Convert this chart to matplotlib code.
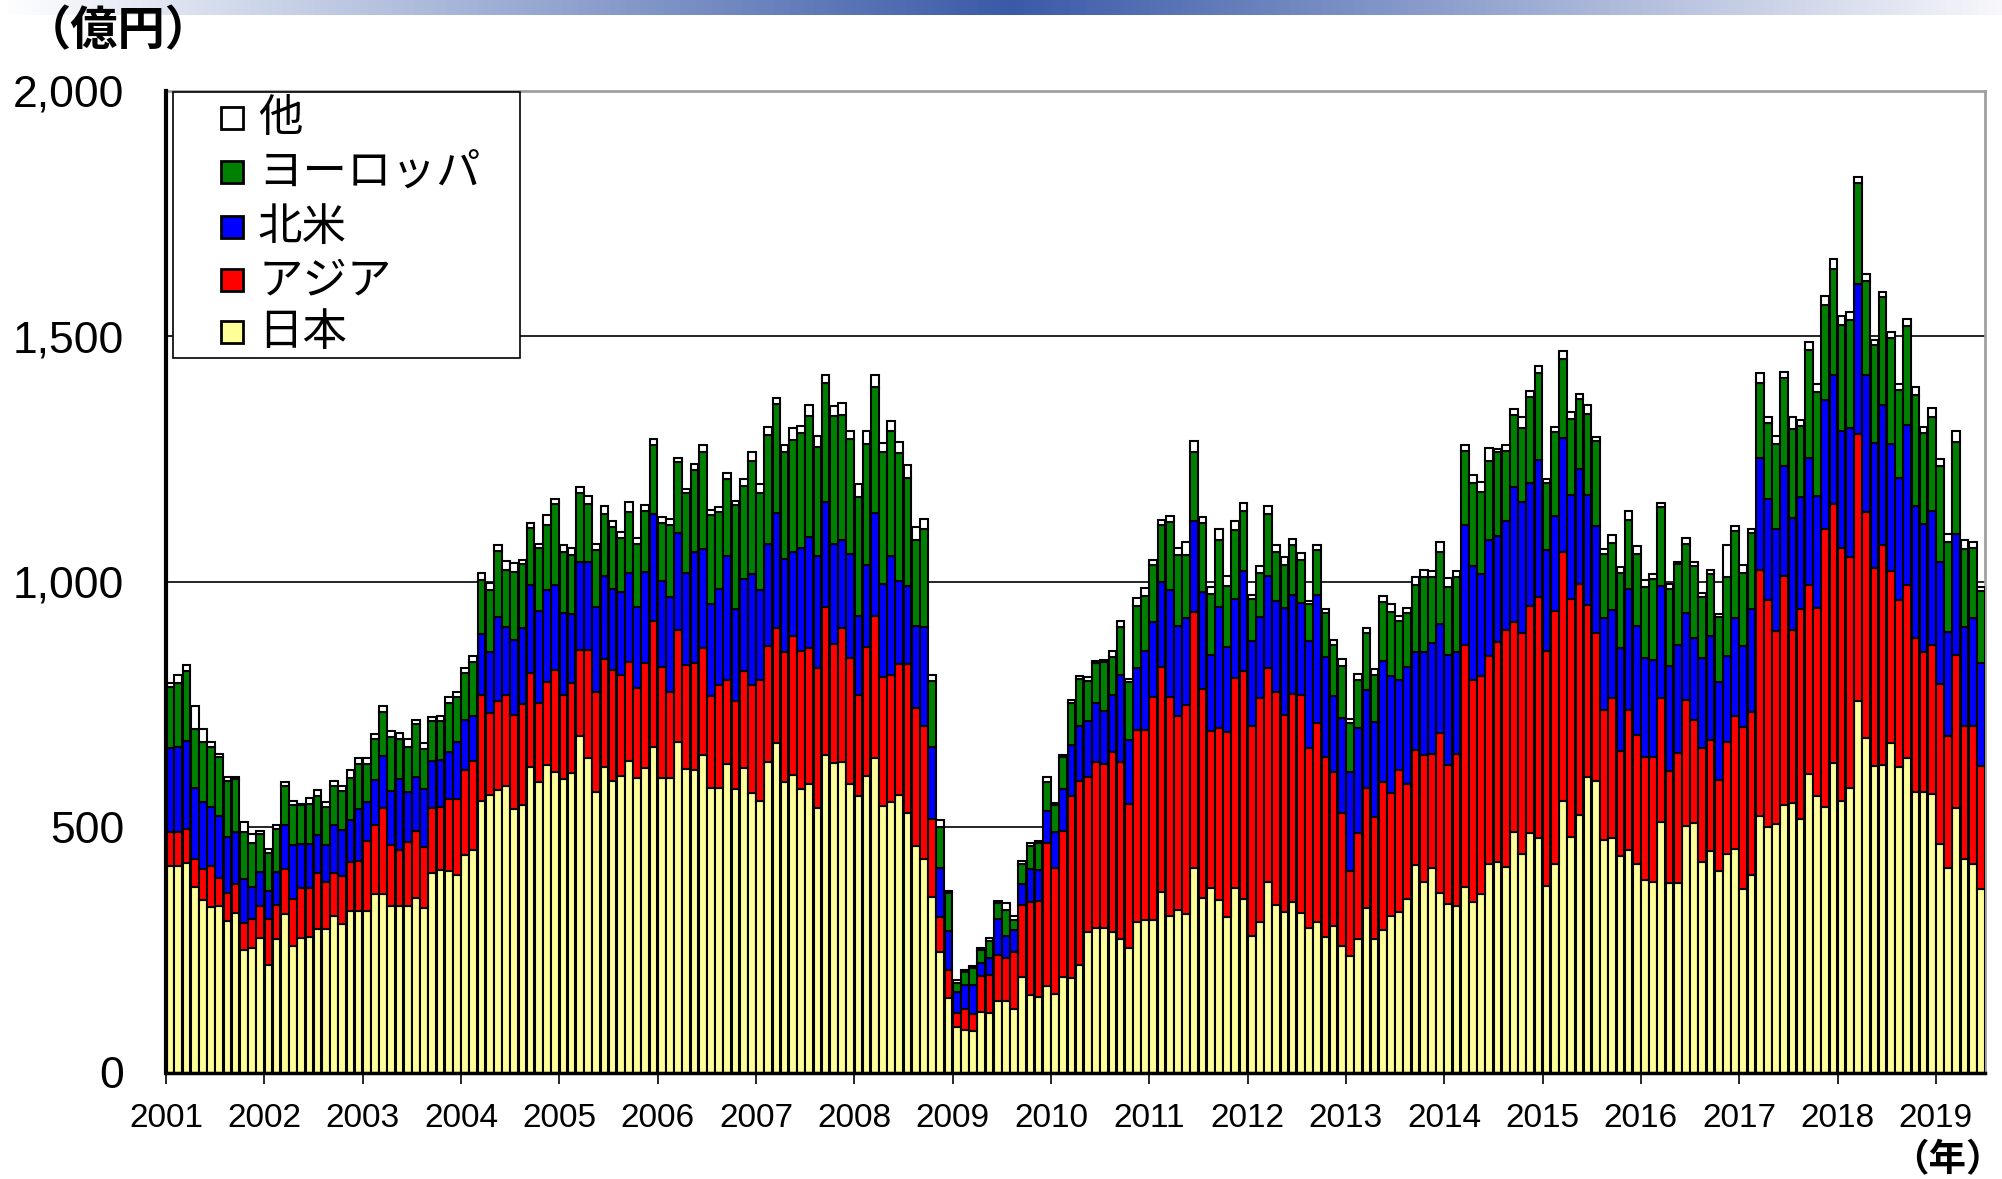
import matplotlib
matplotlib.use('Agg')
import matplotlib.pyplot as plt
import numpy as np
from matplotlib.patches import Rectangle
from matplotlib.colors import LinearSegmentedColormap

# ---- data (monthly, Jan 2001 - Jun 2019), 億円 ----
japan = [421,421,427,378,351,337,339,309,324,250,253,273,
         218,271,322,257,273,276,292,292,318,302,330,328,
         328,364,364,340,340,340,355,335,406,413,410,403,
         443,453,553,565,576,584,536,544,623,592,626,613,
         598,611,686,640,572,623,594,605,634,599,621,663,
         599,599,674,619,617,647,580,580,628,577,620,569,
         554,633,671,592,606,577,587,539,647,630,633,587,
         564,604,640,542,552,566,528,461,435,358,246,151,
         92,87,84,124,122,145,145,129,194,158,153,176,
         160,194,192,219,287,294,294,287,272,253,306,311,
         311,367,319,331,323,416,355,375,352,316,376,354,
         279,307,389,341,327,348,324,294,307,276,299,257,
         238,272,336,272,290,319,327,354,423,388,416,365,
         343,340,377,347,363,424,428,419,489,446,487,477,
         380,424,553,480,525,601,594,474,477,441,454,424,
         392,388,510,387,387,502,509,429,451,410,446,455,
         374,402,523,501,507,544,550,517,608,564,540,631,
         553,580,756,681,625,626,671,623,641,572,572,568,
         465,416,538,434,425,374]
asia = [69,69,69,57,63,84,57,57,59,55,59,67,
        94,70,92,96,103,100,114,97,88,98,98,103,
        143,141,174,123,113,129,137,125,133,127,147,154,
        174,181,217,167,180,184,193,206,191,160,169,206,
        171,182,174,220,203,220,225,205,203,184,213,257,
        228,177,227,212,217,217,187,209,172,180,197,220,
        246,236,234,264,283,281,277,285,301,242,272,258,
        205,263,289,263,258,266,304,282,270,158,71,57,
        30,42,35,72,77,95,89,116,148,189,196,291,
        256,297,372,374,314,338,335,365,360,294,392,387,
        454,459,446,395,426,522,427,320,350,377,428,464,
        427,455,434,434,401,423,444,368,404,366,313,272,
        172,216,243,249,301,251,290,234,234,258,232,326,
        283,308,494,452,444,424,448,483,429,450,463,491,
        478,516,507,485,471,352,302,264,285,214,284,263,
        251,255,252,227,263,256,209,233,226,186,228,271,
        330,333,500,461,392,467,352,427,385,383,568,528,
        516,471,544,460,402,449,350,339,352,314,285,303,
        327,270,312,271,280,251]
namerica = [172,174,180,145,137,119,126,114,107,90,66,68,
            57,67,91,110,90,90,78,74,99,94,87,105,
            80,90,107,110,145,103,110,118,95,96,95,117,
            102,93,123,125,172,139,153,155,180,188,187,175,
            167,142,180,180,174,169,166,169,180,166,185,218,
            175,193,198,186,226,202,188,196,252,188,189,226,
            182,208,235,190,171,210,226,228,214,205,179,211,
            160,167,211,191,242,169,159,167,203,147,99,81,
            41,49,59,28,35,73,44,46,43,68,64,66,
            73,87,104,112,116,120,108,118,178,131,125,160,
            152,173,217,183,176,185,197,155,246,174,161,204,
            172,165,189,186,219,201,188,216,261,205,155,193,
            202,214,201,192,247,237,182,238,199,210,227,223,
            225,208,244,233,209,236,217,221,274,267,250,280,
            207,193,233,211,234,223,217,187,181,210,247,222,
            202,198,229,214,221,178,168,183,212,199,175,200,
            164,209,228,207,209,224,227,228,258,228,261,262,
            237,261,306,280,255,285,259,249,327,267,261,273,
            247,212,246,203,221,210]
europe = [124,130,142,120,122,124,121,113,107,94,89,78,
          79,88,79,81,78,81,79,77,79,79,84,92,
          77,84,89,110,81,92,108,82,83,81,100,90,
          95,110,111,126,134,116,137,131,116,128,134,164,
          124,120,141,118,116,125,127,110,125,128,124,140,
          118,147,144,164,168,198,180,156,157,211,189,230,
          199,222,222,218,228,234,248,223,243,261,256,234,
          244,247,256,268,255,260,220,175,200,134,85,76,
          20,26,34,26,34,32,53,20,40,47,54,58,
          56,64,84,97,81,82,99,76,97,117,127,113,
          116,117,139,146,130,141,140,124,137,124,140,121,
          86,91,126,100,87,102,89,76,93,89,104,107,
          99,97,116,96,120,131,121,110,138,153,134,147,
          138,153,151,168,166,161,171,143,148,149,176,176,
          135,171,161,156,141,166,173,132,136,153,141,148,
          144,165,160,156,164,141,146,123,127,133,160,178,
          149,156,154,154,172,180,182,145,221,212,194,215,
          217,221,206,191,199,219,216,179,201,228,184,192,
          196,182,188,158,143,146]
other = [8,15,12,46,26,9,6,8,4,22,19,6,
         8,9,8,9,3,12,13,11,9,11,17,13,
         13,10,12,12,12,15,9,11,8,10,12,11,
         10,11,13,14,13,18,19,9,10,8,19,10,
         15,13,12,17,12,17,11,12,20,12,13,12,
         11,11,8,8,12,14,11,11,12,9,13,19,
         18,15,12,14,24,14,21,22,15,20,24,17,
         26,26,24,19,21,24,27,26,19,13,14,5,
         6,5,5,3,5,5,14,8,6,5,5,10,
         5,5,7,6,7,4,5,12,13,7,16,16,
         12,10,13,13,26,22,13,15,22,21,18,17,
         9,13,16,13,16,13,13,7,9,9,11,13,
         9,12,10,13,13,16,9,11,15,14,12,19,
         18,12,13,17,20,28,7,13,12,23,12,15,
         10,11,15,13,12,17,8,10,16,12,18,15,
         14,10,10,12,5,11,8,8,8,5,65,10,
         16,8,19,12,16,12,24,12,16,16,18,21,
         19,16,12,14,12,11,13,12,14,15,12,17,
         15,16,22,18,12,9]

years = [str(y) for y in range(2001, 2020)]
series_names = ['日本', 'アジア', '北米', 'ヨーロッパ', '他']
series_colors = ['#FFFF99', '#FF0000', '#0000FF', '#008000', '#FFFFFF']
y_ticks = [0, 500, 1000, 1500, 2000]
y_ticklabels = ['0', '500', '1,000', '1,500', '2,000']

NUM_FONT = ['Liberation Sans', 'DejaVu Sans']
JP_FONT = ['Noto Sans CJK JP', 'DejaVu Sans']

W, H = 2002, 1179
fig = plt.figure(figsize=(W / 100, H / 100), dpi=100)


def fx(px):
    return px / W


def fy(py):
    return 1 - py / H


# top gradient band
gax = fig.add_axes([0, fy(15), 1, 15 / H])
cmap = LinearSegmentedColormap.from_list(
    'band', [(0.0, '#FFFFFF'), (0.505, '#3A5AA8'), (1.0, '#F7F7FB')])
gax.imshow(np.linspace(0, 1, 1000)[None, :], aspect='auto', cmap=cmap,
           extent=[0, 1, 0, 1])
gax.axis('off')

left_px, right_px, top_px, bot_px = 166, 1985, 90.7, 1072.5
ax = fig.add_axes([fx(left_px), fy(bot_px), fx(right_px) - fx(left_px),
                   fy(top_px) - fy(bot_px)])

n = len(japan)
xpos = np.arange(n) + 0.5
bottom = np.zeros(n)
for vals, col in zip([japan, asia, namerica, europe, other], series_colors):
    v = np.array(vals, dtype=float)
    ax.bar(xpos, v, width=0.94, bottom=bottom, color=col,
           edgecolor='black', linewidth=1.5, zorder=3)
    bottom += v

ax.set_xlim(0, n)
ax.set_ylim(0, 2000)
ax.set_yticks(y_ticks)
ax.set_yticklabels(y_ticklabels, family=NUM_FONT, fontsize=32)
ax.tick_params(axis='y', length=0, pad=30)
ax.set_xticks(np.arange(0, 12 * len(years), 12))
ax.set_xticklabels(years, family=NUM_FONT, fontsize=24)
ax.tick_params(axis='x', direction='out', length=8, width=1.2, pad=14)

for yv in [500, 1000, 1500]:
    ax.axhline(yv, color='black', linewidth=1.2, zorder=1)

ax.spines['left'].set_linewidth(3.0)
ax.spines['left'].set_color('black')
ax.spines['left'].set_zorder(4)
ax.spines['bottom'].set_linewidth(2.5)
ax.spines['bottom'].set_color('black')
ax.spines['bottom'].set_zorder(4)
for s in ['top', 'right']:
    ax.spines[s].set_color('#A0A0A0')
    ax.spines[s].set_linewidth(2.0)

# legend (manual)
fig.patches.append(Rectangle((fx(173), fy(358)), fx(520) - fx(173),
                             fy(92) - fy(358), transform=fig.transFigure,
                             facecolor='white', edgecolor='black',
                             linewidth=1.2, zorder=10))
row_y = [118, 172, 227, 280, 332]
for name, col, ry in zip(series_names[::-1], series_colors[::-1], row_y):
    fig.patches.append(Rectangle((fx(221), fy(ry + 11)), fx(243) - fx(221),
                                 fy(ry - 11) - fy(ry + 11),
                                 transform=fig.transFigure, facecolor=col,
                                 edgecolor='black', linewidth=2.0, zorder=11))
    fig.text(fx(258), fy(ry), name, family=JP_FONT, fontsize=32,
             va='center', ha='left', zorder=12)

fig.text(fx(24), fy(31), '（億円）', family=JP_FONT, fontsize=34,
         fontweight='bold', va='center', ha='left')
fig.text(fx(2004), fy(1160), '（年）', family=JP_FONT, fontsize=27,
         fontweight='bold', va='center', ha='right')

fig.savefig('out.png', dpi=100)
